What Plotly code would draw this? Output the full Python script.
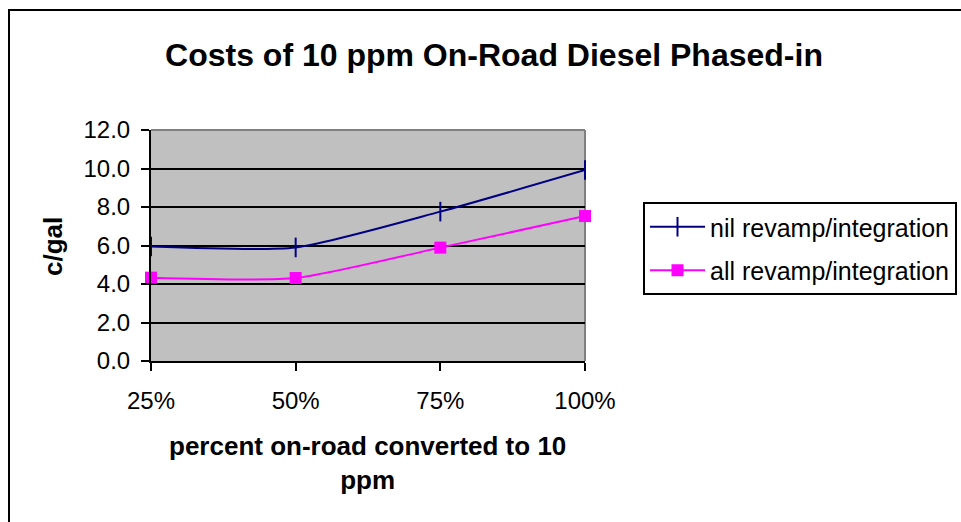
import plotly.graph_objects as go

categories = ["25%", "50%", "75%", "100%"]
nil_revamp = [5.95, 5.9, 7.76, 9.92]
all_revamp = [4.33, 4.31, 5.89, 7.53]
y_ticks = [0, 2, 4, 6, 8, 10, 12]
y_ticklabels = ["0.0", "2.0", "4.0", "6.0", "8.0", "10.0", "12.0"]

xpos = list(range(len(categories)))

fig = go.Figure()
fig.add_trace(go.Scatter(
    x=xpos, y=nil_revamp, name="nil revamp/integration", mode="lines+markers",
    legendgroup="a",
    line=dict(color="#000080", width=2, shape="spline", smoothing=0.6),
    marker=dict(symbol="line-ns", size=14, line=dict(color="#000080", width=2)),
    cliponaxis=False,
))
fig.add_trace(go.Scatter(
    x=xpos, y=all_revamp, name="all revamp/integration", mode="lines+markers",
    legendgroup="b",
    line=dict(color="#FF00FF", width=2, shape="spline", smoothing=0.6),
    marker=dict(symbol="square", size=12, color="#FF00FF"),
    cliponaxis=False,
))

L, R, T, B = 151, 585, 130, 361
W, H = 961, 522
pw, ph = R - L, B - T

def px(xp):
    return (xp - L) / pw

def py(yp):
    return (B - yp) / ph

fig.update_layout(
    width=W, height=H,
    margin=dict(l=L, r=W - R, t=T, b=H - B, autoexpand=False),
    paper_bgcolor="white", plot_bgcolor="#C0C0C0",
    font=dict(family="Liberation Sans, Arial, sans-serif", color="black", size=24),
    title=dict(text="<b>Costs of 10 ppm On-Road Diesel Phased-in</b>",
               x=494 / W, xanchor="center", y=1 - 55 / H, yanchor="middle",
               font=dict(size=32)),
    showlegend=True,
    legend=dict(x=px(643), xanchor="left", y=py(202), yanchor="top",
                bordercolor="black", borderwidth=2, bgcolor="white",
                font=dict(size=25), tracegroupgap=8, itemwidth=55),
    xaxis=dict(range=[0, 3], tickvals=xpos, ticktext=categories,
               showgrid=False, zeroline=False, showline=True, linecolor="black", linewidth=2,
               ticks="outside", ticklen=8, tickwidth=2, tickcolor="black",
               ticklabelstandoff=9,
               tickfont=dict(size=24), fixedrange=True),
    yaxis=dict(range=[0, 12], tickvals=y_ticks, ticktext=y_ticklabels,
               showgrid=True, gridcolor="black", gridwidth=2, zeroline=False,
               showline=True, linecolor="black", linewidth=2,
               ticks="outside", ticklen=8, tickwidth=2, tickcolor="black",
               ticklabelstandoff=6,
               tickfont=dict(size=24), fixedrange=True),
    shapes=[
        dict(type="line", xref="paper", yref="paper",
             x0=px(R), x1=px(R), y0=py(B), y1=py(T),
             line=dict(color="#808080", width=2), layer="below"),
        dict(type="line", xref="paper", yref="paper",
             x0=px(L), x1=px(R), y0=py(T), y1=py(T),
             line=dict(color="#808080", width=2), layer="above"),
        dict(type="rect", xref="paper", yref="paper",
             x0=px(9), x1=px(975), y0=py(535), y1=py(10),
             line=dict(color="black", width=2)),
    ],
    annotations=[
        dict(text="<b>c/gal</b>", xref="paper", yref="paper",
             x=px(53), y=py(247), textangle=-90, showarrow=False,
             font=dict(size=26), xanchor="center", yanchor="middle"),
        dict(text="<b>percent on-road converted to 10<br>ppm</b>", xref="paper", yref="paper",
             x=px(367), y=py(463), showarrow=False, align="center",
             font=dict(size=26), xanchor="center", yanchor="middle"),
    ],
)

fig.write_html("out.html")
